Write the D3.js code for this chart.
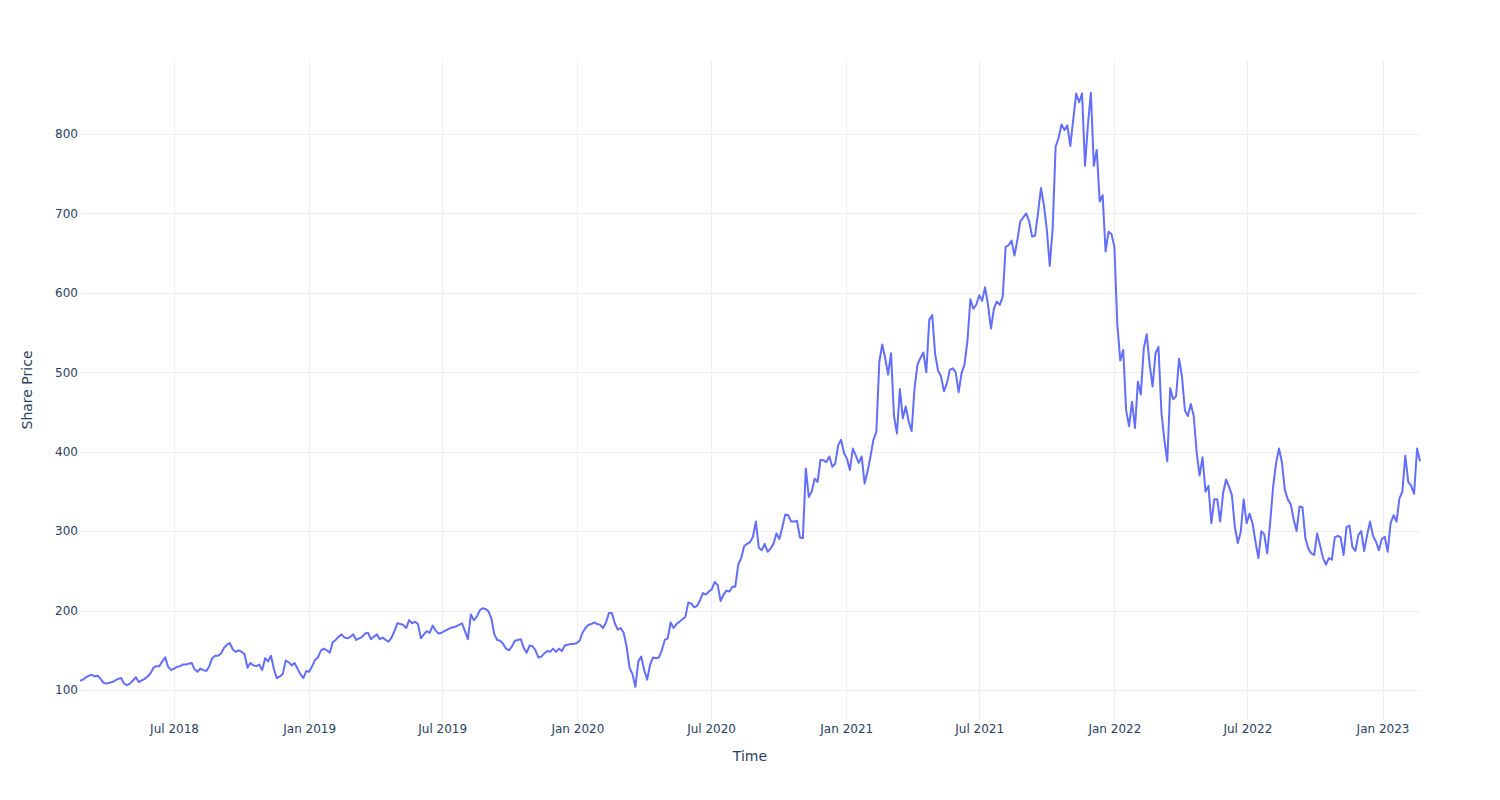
<!DOCTYPE html>
<html><head><meta charset="utf-8">
<script src="https://cdn.jsdelivr.net/npm/d3@7"></script>
<style>
body{margin:0;background:#fff;}
svg{display:block;font-family:"DejaVu Sans",sans-serif;}
</style>
</head><body>
<svg id="chart" width="1500" height="800"></svg>
<script>
// ---- data ----
const startDate = "2018-02-23";   // first trading sample
const stepDays = 4;               // sample spacing in calendar days
const prices = [
111.7,113,116,118,119,117,118,114,109,108,
109,110,112,114,115,108,106,108,112,116,
110,112,114,117,121,128,130,130,136,141,
129,125,127,129,130,132,132,133,134,126,
123,127,125,124,130,140,143,143,146,153,
157,159,151,148,150,148,145,128,134,131,
130,132,125,140,136,143,126,115,117,120,
137,135,131,134,127,120,115,124,123,130,
138,141,150,152,150,147,160,163,167,170,
166,165,167,170,163,165,167,171,172,164,
167,170,164,166,163,161,166,174,184,183,
182,178,188,184,186,183,165,170,174,172,
181,175,171,172,174,176,178,179,180,182,
184,174,164,195,188,192,200,203,202,199,
190,170,163,162,158,152,150,155,162,163,
164,153,147,156,155,150,141,142,146,149,
148,152,148,152,149,156,157,158,158,159,
162,172,178,182,183,185,183,182,178,185,
197,197,184,176,178,172,155,128,120,104,
136,142,125,113,132,141,140,141,150,163,
165,185,178,183,186,189,192,210,209,204,
206,213,222,220,224,227,236,232,212,220,
225,224,230,230,258,266,281,284,286,293,
312,279,276,284,274,278,284,297,290,305,
321,320,312,312,313,292,291,379,343,350,
366,362,390,389,387,394,381,385,408,415,
398,391,377,404,395,386,394,360,375,394,
415,425,513,535,518,497,524,445,423,479,
442,457,438,426,480,510,518,525,500,566,
572,523,502,495,476,486,503,505,500,475,
499,510,540,592,580,585,597,590,607,585,
555,580,589,585,595,658,660,666,647,667,
690,695,700,690,671,672,700,732,711,680,
634,681,784,795,812,805,811,785,818,851,
840,851,760,812,852,760,780,715,723,652,
677,674,658,560,515,528,452,432,463,430,
488,472,530,548,510,482,524,532,450,415,
388,480,466,470,517,495,452,445,460,445,
399,370,393,350,357,310,340,340,312,348,
365,356,345,305,285,299,340,310,322,310,
287,266,300,296,272,310,355,385,404,387,
352,340,334,315,300,331,330,291,278,272,
270,297,282,266,258,266,264,292,294,292,
270,305,307,280,275,295,300,275,295,312,
294,287,276,290,293,274,310,320,312,341,
350,395,362,357,347,404,388
];
const yTickValues = [100,200,300,400,500,600,700,800];
const yRange = [62.2, 893.2];
const xTitle = "Time";
const yTitle = "Share Price";

// ---- layout ----
const W = 1500, H = 800;
const margin = {top:60, right:80, bottom:80, left:80};
const iw = W - margin.left - margin.right;
const ih = H - margin.top - margin.bottom;
const textColor = "#2a3f5f";
const gridColor = "#ebf0f8";
const lineColor = "#636efa";

const parse = d3.timeParse("%Y-%m-%d");
const t0 = parse(startDate);
const data = prices.map((v,i)=>({date:d3.timeDay.offset(t0, i*stepDays), value:v}));

const x = d3.scaleTime().domain(d3.extent(data,d=>d.date)).range([margin.left, margin.left+iw]);
const y = d3.scaleLinear().domain(yRange).range([margin.top+ih, margin.top]);

const svg = d3.select("#chart");
svg.append("rect").attr("width",W).attr("height",H).attr("fill","#fff");

const xTicks = x.ticks(d3.timeMonth.every(6));
const fmt = d3.timeFormat("%b %Y");

// grid
const grid = svg.append("g");
grid.selectAll("line.vx").data(xTicks).join("line")
  .attr("x1",d=>Math.round(x(d))+0.5).attr("x2",d=>Math.round(x(d))+0.5)
  .attr("y1",margin.top).attr("y2",margin.top+ih)
  .attr("stroke",gridColor).attr("stroke-width",1);
grid.selectAll("line.hy").data(yTickValues).join("line")
  .attr("x1",margin.left).attr("x2",margin.left+iw)
  .attr("y1",d=>Math.round(y(d))+0.5).attr("y2",d=>Math.round(y(d))+0.5)
  .attr("stroke",gridColor).attr("stroke-width",1);

// axes (labels only, Plotly style)
const xAxis = d3.axisBottom(x).tickValues(xTicks).tickFormat(fmt).tickSize(0).tickPadding(0);
const gx = svg.append("g").attr("transform",`translate(0,${margin.top+ih})`).call(xAxis);
gx.select(".domain").remove();
gx.selectAll("text").attr("fill",textColor).attr("font-size",12)
  .attr("font-family","DejaVu Sans, sans-serif").attr("y",13).attr("dy",0);

const yAxis = d3.axisLeft(y).tickValues(yTickValues).tickSize(0).tickPadding(2);
const gy = svg.append("g").attr("transform",`translate(${margin.left},0)`).call(yAxis);
gy.select(".domain").remove();
gy.selectAll("text").attr("fill",textColor).attr("font-size",12)
  .attr("font-family","DejaVu Sans, sans-serif");

// line
const line = d3.line().x(d=>x(d.date)).y(d=>y(d.value));
svg.append("path").datum(data).attr("d",line)
  .attr("fill","none").attr("stroke",lineColor).attr("stroke-width",2)
  .attr("stroke-linejoin","round");

// titles
svg.append("text").attr("x",margin.left+iw/2).attr("y",761)
  .attr("text-anchor","middle").attr("fill",textColor).attr("font-size",14).text(xTitle);
svg.append("text").attr("transform",`translate(31.5,${margin.top+ih/2}) rotate(-90)`)
  .attr("text-anchor","middle").attr("fill",textColor).attr("font-size",14).text(yTitle);
</script>
</body></html>
